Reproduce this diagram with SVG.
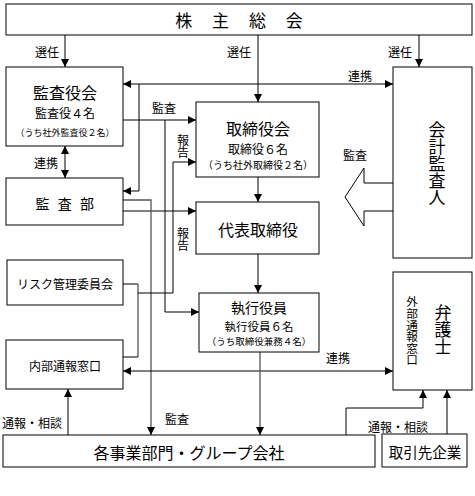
<svg xmlns="http://www.w3.org/2000/svg" width="475" height="496" viewBox="0 0 475 496">
<style>
.box{fill:#fff;stroke:#000;stroke-width:1}
text{font-family:"Noto Sans CJK JP","Noto Sans CJK SC",sans-serif;fill:#000;text-anchor:middle;dominant-baseline:central}
.ln{fill:none;stroke:#000;stroke-width:1}
.gr{fill:none;stroke:#555;stroke-width:1.3}
.lb{font-size:12px}
.vt{writing-mode:vertical-rl}
</style>
<defs>
<marker id="ah" viewBox="0 0 8 8" refX="8" refY="4" markerWidth="8" markerHeight="8" markerUnits="userSpaceOnUse" orient="auto-start-reverse">
<path d="M0,0 L8,4 L0,8 z" fill="#000"/>
</marker>
</defs>
<rect width="475" height="496" fill="#fff"/>

<g id="connectors">
<path class="ln" d="M65,35 V67" marker-end="url(#ah)"/>
<path class="ln" d="M258,35 V102" marker-end="url(#ah)"/>
<path class="ln" d="M419,35 V67" marker-end="url(#ah)"/>
<path class="ln" d="M123,84 H393" marker-start="url(#ah)" marker-end="url(#ah)"/>
<path class="ln" d="M139,84 V191 H123" marker-end="url(#ah)"/>
<path class="ln" d="M65,146 V178" marker-start="url(#ah)" marker-end="url(#ah)"/>
<path class="ln" d="M123,120 H196" marker-end="url(#ah)"/>
<path class="ln" d="M165,120 V312 H199" marker-end="url(#ah)"/>
<path class="ln" d="M258,177 V202" marker-end="url(#ah)"/>
<path class="ln" d="M258,254 V293" marker-end="url(#ah)"/>
<path class="ln" d="M123,211 H196" marker-end="url(#ah)"/>
<path class="gr" d="M123,200 H151 V435" marker-end="url(#ah)"/>
<path class="ln" d="M123,284 H138"/>
<path class="gr" d="M138,284 V357"/>
<path class="ln" d="M138,357 H123"/>
<path class="ln" d="M138,293 H173 V162 H196" marker-end="url(#ah)"/>
<path class="ln" d="M123,371 H393" marker-start="url(#ah)" marker-end="url(#ah)"/>
<path class="gr" d="M260,352 V435" marker-end="url(#ah)"/>
<path class="ln" d="M68,435 V389" marker-end="url(#ah)"/>
<path class="ln" d="M346,435 V408 H423 V390" marker-end="url(#ah)"/>
<path class="ln" d="M447,434 V390" marker-end="url(#ah)"/>
<path d="M393,183 H364 V168 L345,197 L364,226 V211 H393" fill="#fff" stroke="#000" stroke-width="1"/>
<text class="lb" x="47" y="51">選任</text>
<text class="lb" x="239" y="51">選任</text>
<text class="lb" x="400" y="51">選任</text>
<text class="lb" x="360" y="75">連携</text>
<text class="lb" x="164" y="107">監査</text>
<text class="lb vt" x="183" y="146">報告</text>
<text class="lb" x="46" y="162">連携</text>
<text class="lb" x="355" y="154">監査</text>
<text class="lb vt" x="183" y="239">報告</text>
<text class="lb" x="338" y="357">連携</text>
<text class="lb" x="177" y="418">監査</text>
<text class="lb" x="32" y="422">通報・相談</text>
<text class="lb" x="398" y="426">通報・相談</text>
</g>

<g id="kabunushi">
<rect class="box" x="6" y="4" width="466" height="31"/>
<text x="239" y="19" style="font-size:17px;letter-spacing:8px" dx="4">株 主 総 会</text>
</g>

<g id="kansayakukai">
<rect class="box" x="6" y="67" width="117" height="79"/>
<text x="65" y="91.5" style="font-size:16px">監査役会</text>
<text x="65" y="112" style="font-size:12px">監査役４名</text>
<text x="65" y="132" style="font-size:9px">（うち社外監査役２名）</text>
</g>

<g id="kansabu">
<rect class="box" x="6" y="178" width="117" height="47"/>
<text x="65" y="203" style="font-size:14px;letter-spacing:2.5px" dx="1">監 査 部</text>
</g>

<g id="risk">
<rect class="box" x="7" y="260" width="116" height="45"/>
<text x="65" y="283" style="font-size:12px">リスク管理委員会</text>
</g>

<g id="naibu">
<rect class="box" x="6" y="340" width="117" height="49"/>
<text x="65" y="365" style="font-size:12px">内部通報窓口</text>
</g>

<g id="torishimariyakukai">
<rect class="box" x="196" y="102" width="123" height="75"/>
<text x="258" y="127.5" style="font-size:16px">取締役会</text>
<text x="258" y="148" style="font-size:12px">取締役６名</text>
<text x="258" y="164.5" style="font-size:10px">（うち社外取締役２名）</text>
</g>

<g id="daihyo">
<rect class="box" x="196" y="202" width="123" height="52"/>
<text x="258" y="229" style="font-size:16px">代表取締役</text>
</g>

<g id="shikko">
<rect class="box" x="199" y="293" width="120" height="59"/>
<text x="259" y="307" style="font-size:14px">執行役員</text>
<text x="259" y="325.5" style="font-size:11.5px">執行役員６名</text>
<text x="259" y="340.5" style="font-size:9.5px">（うち取締役兼務４名）</text>
</g>

<g id="kaikei">
<rect class="box" x="393" y="67" width="79" height="191"/>
<text class="vt" x="437" y="164" style="font-size:17px">会計監査人</text>
</g>

<g id="bengoshi">
<rect class="box" x="393" y="272" width="79" height="118"/>
<text class="vt" x="412" y="331" style="font-size:11.6px">外部通報窓口</text>
<text class="vt" x="443" y="330" style="font-size:17px">弁護士</text>
</g>

<g id="jigyobu">
<rect class="box" x="3" y="435" width="372" height="32"/>
<text x="189" y="452" style="font-size:16px">各事業部門・グループ会社</text>
</g>

<g id="torihiki">
<rect class="box" x="382" y="434" width="85" height="33"/>
<text x="425" y="451" style="font-size:14.5px">取引先企業</text>
</g>
</svg>
